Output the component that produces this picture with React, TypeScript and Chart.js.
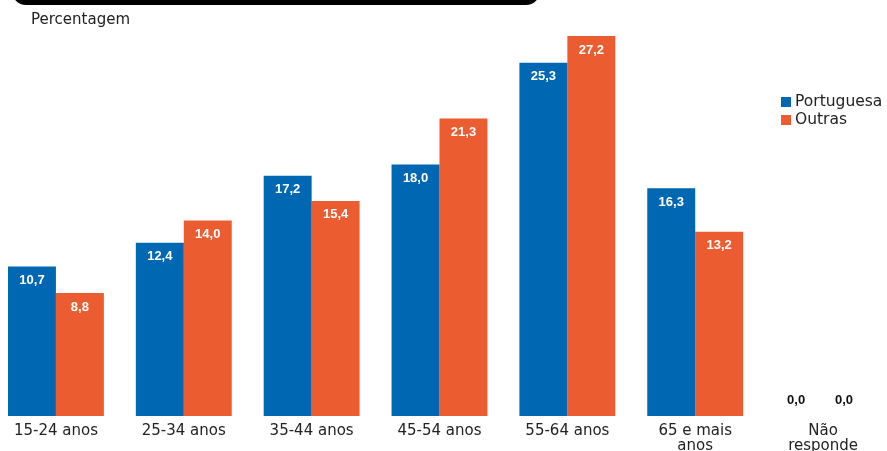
import React, { useEffect, useRef } from "react";
import { Chart, registerables } from "chart.js";

Chart.register(...registerables);

const categories: (string | string[])[] = [
  "15-24 anos",
  "25-34 anos",
  "35-44 anos",
  "45-54 anos",
  "55-64 anos",
  ["65 e mais", "anos"],
  ["Não", "responde"],
];
const seriesNames = ["Portuguesa", "Outras"];
const portuguesa = [10.7, 12.4, 17.2, 18.0, 25.3, 16.3, 0.0];
const outras = [8.8, 14.0, 15.4, 21.3, 27.2, 13.2, 0.0];
const seriesColors = ["#0067b3", "#eb5c30"];
const axisTitle = "Percentagem";

const OX = -8; // canvas offset in page
const OY = -3;
const CW = 895;
const CH = 454;

const fmt = (v: number) => v.toFixed(1).replace(".", ",");

const valueLabels = {
  id: "valueLabels",
  afterDatasetsDraw(chart: any) {
    const ctx = chart.ctx;
    ctx.save();
    ctx.font = "bold 13px 'Liberation Sans', Arial, sans-serif";
    ctx.textAlign = "center";
    ctx.textBaseline = "middle";
    chart.data.datasets.forEach((ds: any, i: number) => {
      const meta = chart.getDatasetMeta(i);
      meta.data.forEach((el: any, j: number) => {
        const v = ds.data[j] as number;
        if (v > 0) {
          ctx.fillStyle = "#ffffff";
          ctx.fillText(fmt(v), el.x, el.y + 14);
        } else {
          ctx.fillStyle = "#111111";
          ctx.fillText(fmt(v), el.x - 3, el.base - 16);
        }
      });
    });
    ctx.restore();
  },
};

const customLegend = {
  id: "customLegend",
  afterDraw(chart: any) {
    const ctx = chart.ctx;
    ctx.save();
    ctx.font = "15.5px 'DejaVu Sans', sans-serif";
    ctx.textAlign = "left";
    ctx.textBaseline = "middle";
    chart.data.datasets.forEach((ds: any, i: number) => {
      const y = 102 - OY + i * 18;
      ctx.fillStyle = ds.backgroundColor;
      ctx.fillRect(781 - OX, y - 5, 10, 10);
      ctx.fillStyle = "#222222";
      ctx.fillText(ds.label, 795 - OX, y);
    });
    ctx.restore();
  },
};

export default function App() {
  const ref = useRef<HTMLCanvasElement | null>(null);

  useEffect(() => {
    if (!ref.current) return;
    const chart = new Chart(ref.current, {
      type: "bar",
      data: {
        labels: categories,
        datasets: [
          {
            label: seriesNames[0],
            data: portuguesa,
            backgroundColor: seriesColors[0],
            categoryPercentage: 0.75,
            barPercentage: 1,
          },
          {
            label: seriesNames[1],
            data: outras,
            backgroundColor: seriesColors[1],
            categoryPercentage: 0.75,
            barPercentage: 1,
          },
        ],
      },
      options: {
        responsive: false,
        animation: false,
        layout: { padding: 0 },
        plugins: {
          legend: { display: false },
          tooltip: { enabled: false },
          title: { display: false },
        },
        scales: {
          x: {
            grid: { display: false, drawTicks: false },
            border: { display: false },
            ticks: {
              color: "#222222",
              padding: 8,
              maxRotation: 0,
              autoSkip: false,
              font: { family: "'DejaVu Sans', sans-serif", size: 15, lineHeight: 0.97 },
            },
            afterFit: (scale: any) => {
              scale.height = 35;
            },
          },
          y: {
            display: false,
            min: 0,
            max: 30,
          },
        },
      },
      plugins: [valueLabels, customLegend],
    });
    return () => chart.destroy();
  }, []);

  return (
    <div
      style={{
        position: "fixed",
        left: 0,
        top: 0,
        width: 887,
        height: 451,
        overflow: "hidden",
        background: "#ffffff",
      }}
    >
      <div
        style={{
          position: "absolute",
          left: 12,
          top: -30,
          width: 528,
          height: 35,
          background: "#000000",
          borderRadius: 14,
        }}
      />
      <canvas
        ref={ref}
        width={CW}
        height={CH}
        style={{ position: "absolute", left: OX, top: OY, width: CW, height: CH }}
      />
      <div
        style={{
          position: "absolute",
          left: 31,
          top: 10,
          fontFamily: "'DejaVu Sans', sans-serif",
          fontSize: 15,
          lineHeight: "18px",
          color: "#222222",
        }}
      >
        {axisTitle}
      </div>
    </div>
  );
}
